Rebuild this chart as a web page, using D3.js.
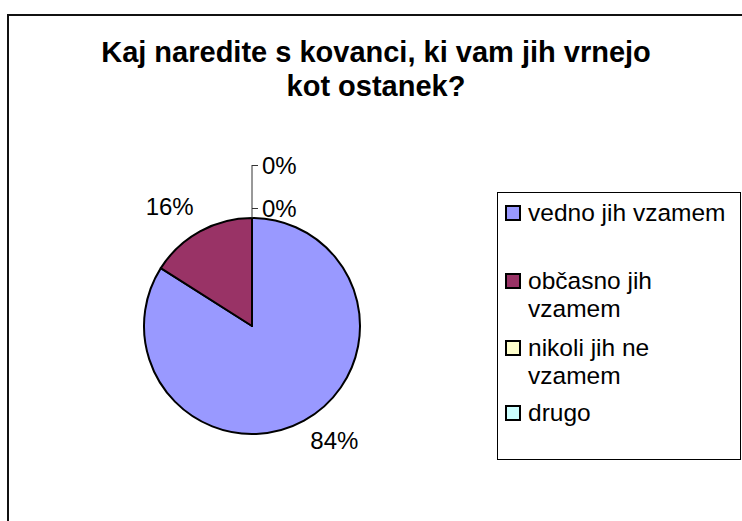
<!DOCTYPE html>
<html>
<head>
<meta charset="utf-8">
<script src="https://cdn.jsdelivr.net/npm/d3@7"></script>
<style>
  html, body { margin: 0; padding: 0; background: #fff; }
  svg { display: block; font-family: "Liberation Sans", Arial, sans-serif; }
</style>
</head>
<body>
<svg id="chart" width="742" height="521"></svg>
<script>
const titleLines = ["Kaj naredite s kovanci, ki vam jih vrnejo", "kot ostanek?"];
const categories = ["vedno jih vzamem", "občasno jih vzamem", "nikoli jih ne vzamem", "drugo"];
const legendLines = [["vedno jih vzamem"], ["občasno jih", "vzamem"], ["nikoli jih ne", "vzamem"], ["drugo"]];
const values = [84, 16, 0, 0];
const colors = ["#9999FF", "#993366", "#FFFFCC", "#CCFFFF"];

const svg = d3.select("#chart");

// Chart area frame (continues past the right and bottom edges)
svg.append("rect")
  .attr("x", 8).attr("y", 15)
  .attr("width", 760).attr("height", 540)
  .attr("fill", "#fff").attr("stroke", "#111").attr("stroke-width", 2);

// Title, centred on the chart area
svg.append("text")
  .attr("text-anchor", "middle")
  .attr("font-size", 29).attr("font-weight", "bold")
  .selectAll("tspan").data(titleLines).join("tspan")
  .attr("x", 376).attr("y", (d, i) => 62 + i * 34)
  .text(d => d);

// Pie, starting at 12 o'clock and running clockwise
const cx = 252, cy = 326, r = 108;
const pie = d3.pie().sort(null).value(d => d)
  .startAngle(0).endAngle(2 * Math.PI);
const arcs = pie(values);
const arc = d3.arc().innerRadius(0).outerRadius(r);
const g = svg.append("g").attr("transform", `translate(${cx},${cy})`);

g.selectAll("path").data(arcs).join("path")
  .attr("d", arc)
  .attr("fill", (d, i) => colors[i])
  .attr("stroke", "#000").attr("stroke-width", 2)
  .attr("stroke-linejoin", "round");

// Percent labels: the corner of each label box sits just outside its slice
const fmt = v => Math.round(v) + "%";
const total = d3.sum(values);
const labelFs = 24, digitH = 17;
const labelsG = svg.append("g").attr("font-size", labelFs).attr("fill", "#000");

arcs.forEach((a, i) => {
  if (a.data <= 0) return;
  const mid = (a.startAngle + a.endAngle) / 2;
  const sx = Math.sin(mid), sy = -Math.cos(mid);
  const ax = cx + (r + 13) * sx, ay = cy + (r + 13) * sy;
  labelsG.append("text")
    .attr("x", ax)
    .attr("y", sy > 0 ? ay + digitH : ay - 5)
    .attr("text-anchor", sx >= 0 ? "start" : "end")
    .text(fmt(100 * a.data / total));
});

// Zero-value slices: leader lines stacked above the top of the pie
const zeroIdx = arcs.map((a, i) => i).filter(i => values[i] === 0);
const leaderYs = [208, 165];
if (zeroIdx.length) {
  svg.append("path")
    .attr("d", `M${cx},${cy - r} V${leaderYs[zeroIdx.length - 1]}`)
    .attr("stroke", "#333").attr("stroke-width", 1).attr("fill", "none");
}
zeroIdx.forEach((idx, k) => {
  const y = leaderYs[k];
  svg.append("path")
    .attr("d", `M${cx},${y + 0.5} H${cx + 6}`)
    .attr("stroke", "#333").attr("stroke-width", 1);
  labelsG.append("text")
    .attr("x", cx + 10).attr("y", y + 9)
    .text(fmt(values[idx]));
});

// Legend
svg.append("rect")
  .attr("x", 497.5).attr("y", 192.5)
  .attr("width", 243).attr("height", 267)
  .attr("fill", "#fff").attr("stroke", "#000").attr("stroke-width", 1);

const legendY = [221, 289, 356, 421];
const lg = svg.append("g").attr("font-size", 24.5);
categories.forEach((c, i) => {
  lg.append("rect")
    .attr("x", 506).attr("y", legendY[i] - 15)
    .attr("width", 14).attr("height", 14)
    .attr("fill", colors[i]).attr("stroke", "#000").attr("stroke-width", 2);
  lg.append("text")
    .selectAll("tspan").data(legendLines[i]).join("tspan")
    .attr("x", 528).attr("y", (d, j) => legendY[i] + j * 28)
    .text(d => d);
});
</script>
</body>
</html>
